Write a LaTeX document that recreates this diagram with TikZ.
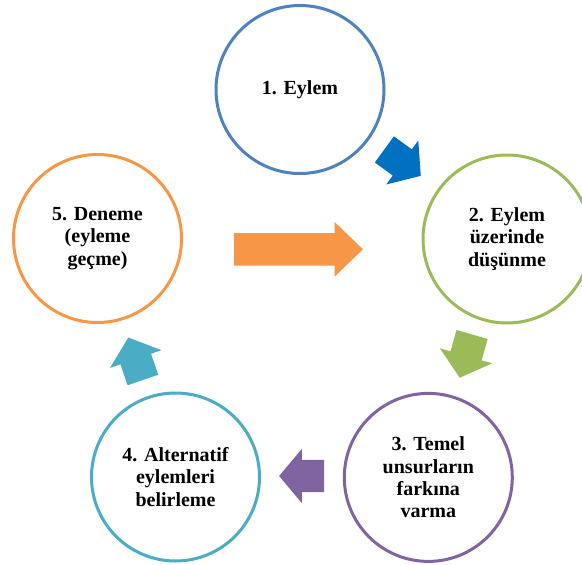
\documentclass[tikz,border=0pt]{standalone}
\usepackage{fontspec}
\setmainfont{Liberation Serif}
\usetikzlibrary{shapes.arrows}
\definecolor{mavi}{HTML}{4F81BD}
\definecolor{koyumavi}{HTML}{0070C0}
\definecolor{yesil}{HTML}{9BBB59}
\definecolor{mor}{HTML}{8064A2}
\definecolor{turkuaz}{HTML}{4BACC6}
\definecolor{turuncu}{HTML}{F79646}
\tikzset{
  adim/.style={draw=#1, line width=3pt, circle, minimum size=168pt, inner sep=0pt,
    align=center, font=\fontsize{20}{22.3}\selectfont\bfseries},
  ok/.style={single arrow, fill=#1, inner xsep=0pt, inner ysep=16pt, anchor=tail,
    single arrow head extend=11pt, single arrow tip angle=100, minimum height=45pt}
}
\begin{document}
\begin{tikzpicture}[x=1pt, y=-1pt]
\useasboundingbox (0,0) rectangle (582,565);
\node[adim=mavi] (eylem) at (300,89.5) {1. Eylem};
\node[adim=yesil] (dusunme) at (507,239) {2. Eylem\\üzerinde\\düşünme};
\node[adim=mor] (farkina) at (428.3,477.4) {3. Temel\\unsurların\\farkına\\varma};
\node[adim=turkuaz] (alternatif) at (175.5,477) {4. Alternatif\\eylemleri\\belirleme};
\node[adim=turuncu] (deneme) at (97.5,238.5) {5. Deneme\\(eyleme\\geçme)};

\node[ok=koyumavi, rotate=-36] (ok1) at (384.2,149.3) {};
\node[ok=yesil, rotate=-106] (ok2) at (472.2,334.3) {};
\node[ok=mor, rotate=180] (ok3) at (324.3,476) {};
\node[ok=turkuaz, rotate=109] (ok4) at (143,380.2) {};
\node[ok=turuncu, minimum height=128.7pt, single arrow tip angle=88] (ok5) at (234,249.3) {};
\end{tikzpicture}
\end{document}
